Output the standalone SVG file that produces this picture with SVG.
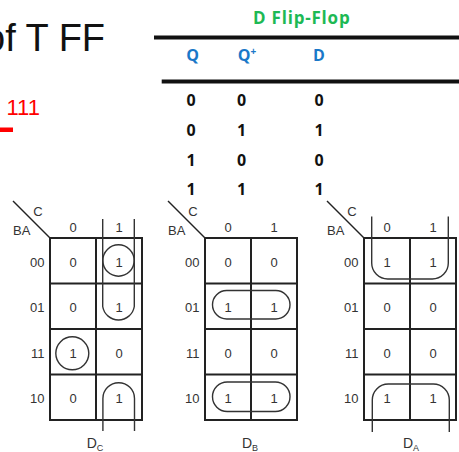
<svg xmlns="http://www.w3.org/2000/svg" width="459" height="452" viewBox="0 0 459 452">
<style>
.tb{font-family:"Open Sans","DejaVu Sans",sans-serif;font-weight:700;font-size:16px;fill:#111;text-anchor:middle}
.hd{fill:#1a78c8}
.km{font-family:"Liberation Sans",Arial,sans-serif;font-size:13px;fill:#333;text-anchor:middle}
.rl{text-anchor:end}
.grid{fill:none;stroke:#222;stroke-width:2}
.loop{fill:none;stroke:#333;stroke-width:1.4}
</style>
<rect width="459" height="452" fill="#fff"/>
<g id="title">
<text x="-16" y="51" font-family="Liberation Sans,Arial,sans-serif" font-size="38" fill="#111">of T FF</text>
</g>
<g id="red-note">
<text x="6.5" y="115" font-family="Liberation Sans,Arial,sans-serif" font-size="22" fill="#f00">111</text>
<rect x="0" y="127.5" width="13" height="4.5" fill="#f00"/>
</g>
<g id="dff-table">
<text x="301.7" y="24" class="tb" style="fill:#1db954;font-size:17px;letter-spacing:0.8px">D Flip-Flop</text>
<rect x="154" y="35.5" width="305" height="4" fill="#111"/>
<rect x="161.7" y="79.5" width="297.3" height="4" fill="#111"/>
<text x="192.5" y="61" class="tb hd">Q</text>
<text x="247" y="61" class="tb hd">Q<tspan dy="-6" font-size="10">+</tspan></text>
<text x="319" y="61" class="tb hd">D</text>
<text x="191" y="106" class="tb">0</text><text x="241.7" y="106" class="tb">0</text><text x="319" y="106" class="tb">0</text>
<text x="191" y="136" class="tb">0</text><text x="241.7" y="136" class="tb">1</text><text x="319" y="136" class="tb">1</text>
<text x="191" y="165.7" class="tb">1</text><text x="241.7" y="165.7" class="tb">0</text><text x="319" y="165.7" class="tb">0</text>
<text x="191" y="195" class="tb">1</text><text x="241.7" y="195" class="tb">1</text><text x="319" y="195" class="tb">1</text>
</g>
<defs>
<g id="frame">
<line x1="-37" y1="-37" x2="0" y2="0" stroke="#222" stroke-width="1.4"/>
<text x="-12" y="-22.5" class="km">C</text>
<text x="-28.3" y="-3.5" class="km">BA</text>
<text x="23" y="-6.5" class="km">0</text>
<text x="69" y="-6.5" class="km">1</text>
<text x="-5.5" y="28.7" class="km rl">00</text>
<text x="-5.5" y="74.2" class="km rl">01</text>
<text x="-5.5" y="119.7" class="km rl">11</text>
<text x="-5.5" y="165.2" class="km rl">10</text>
<rect x="0" y="0" width="92" height="182" class="grid"/>
<line x1="46" y1="0" x2="46" y2="182" class="grid"/>
<line x1="0" y1="45.5" x2="92" y2="45.5" class="grid"/>
<line x1="0" y1="91" x2="92" y2="91" class="grid"/>
<line x1="0" y1="136.5" x2="92" y2="136.5" class="grid"/>
</g>
</defs>
<g id="kmap-dc" transform="translate(50,238)">
<use href="#frame"/>
<text x="23" y="28.7" class="km">0</text><text x="69" y="28.7" class="km">1</text>
<text x="23" y="74.2" class="km">0</text><text x="69" y="74.2" class="km">1</text>
<text x="23" y="119.7" class="km">1</text><text x="69" y="119.7" class="km">0</text>
<text x="23" y="165.2" class="km">0</text><text x="69" y="165.2" class="km">1</text>
<circle cx="68.5" cy="22.5" r="15.7" class="loop"/>
<path d="M52.7,-19 V68.5 A16,16 0 0 0 84.3,68.5 V-19" class="loop"/>
<circle cx="22.3" cy="115.3" r="16.5" class="loop"/>
<path d="M52.9,193 V160.5 A15.8,15.8 0 0 1 84.5,160.5 V193" class="loop"/>
<text x="45" y="210" class="km" style="font-size:14px">D<tspan dy="3" font-size="9">C</tspan></text>
</g>
<g id="kmap-db" transform="translate(205,238)">
<use href="#frame"/>
<text x="23" y="28.7" class="km">0</text><text x="69" y="28.7" class="km">0</text>
<text x="23" y="74.2" class="km">1</text><text x="69" y="74.2" class="km">1</text>
<text x="23" y="119.7" class="km">0</text><text x="69" y="119.7" class="km">0</text>
<text x="23" y="165.2" class="km">1</text><text x="69" y="165.2" class="km">1</text>
<rect x="7.5" y="52.5" width="77.5" height="28.5" rx="14.2" class="loop"/>
<rect x="7.5" y="144" width="77.5" height="29.5" rx="14.7" class="loop"/>
<text x="45" y="210" class="km" style="font-size:14px">D<tspan dy="3" font-size="9">B</tspan></text>
</g>
<g id="kmap-da" transform="translate(364,238)">
<use href="#frame"/>
<text x="23" y="28.7" class="km">1</text><text x="69" y="28.7" class="km">1</text>
<text x="23" y="74.2" class="km">0</text><text x="69" y="74.2" class="km">0</text>
<text x="23" y="119.7" class="km">0</text><text x="69" y="119.7" class="km">0</text>
<text x="23" y="165.2" class="km">1</text><text x="69" y="165.2" class="km">1</text>
<path d="M7.7,-21.5 V25 A16,16 0 0 0 23.7,41 H68.3 A16,16 0 0 0 84.3,25 V-21.5" class="loop"/>
<path d="M8.3,194 V162 A16,16 0 0 1 24.3,146 H69.3 A16,16 0 0 1 85.3,162 V194" class="loop"/>
<text x="47" y="210" class="km" style="font-size:14px">D<tspan dy="3" font-size="9">A</tspan></text>
</g>
</svg>
